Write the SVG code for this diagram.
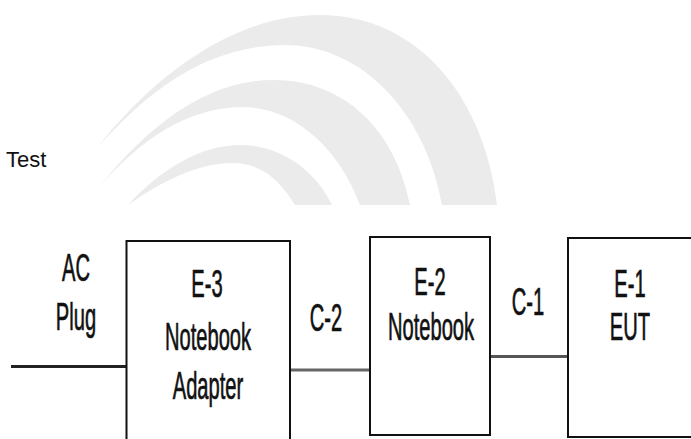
<svg xmlns="http://www.w3.org/2000/svg" width="691" height="439" viewBox="0 0 691 439">
<style>
.sw{fill:#ebebeb}
.box{fill:#fff;stroke:#111;stroke-width:2}
.t{font-family:"Liberation Sans",Arial,sans-serif;font-size:38px;fill:#111;stroke:#111;stroke-width:0.7;text-anchor:middle}
.w{stroke-width:3;fill:none}
</style>
<rect width="691" height="439" fill="#fff"/>
<g id="swoosh">
<path class="sw" d="M97,148 C150,80 230,15 320,15 C420,15 485,100 497,205 L442,205 C425,110 360,45 285,45 C200,45 140,100 97,148 Z"/>
<path class="sw" d="M95,192 C140,135 200,80 273,80 C345,80 395,130 410,205 L360,205 C340,150 295,107 243,107 C180,107 130,150 95,192 Z"/>
<path class="sw" d="M128,205 C160,170 200,145 240,145 C285,145 318,175 332,205 L295,205 C280,180 260,163 233,163 C190,163 150,190 128,205 Z"/>
</g>
<text x="6" y="167" font-family="Liberation Sans, Arial, sans-serif" font-size="22" fill="#111">Test</text>
<g id="connectors">
<line class="w" x1="11" y1="366.5" x2="127" y2="366.5" stroke="#222"/>
<line class="w" x1="290" y1="370" x2="370" y2="370" stroke="#666"/>
<line class="w" x1="490" y1="356.5" x2="568" y2="356.5" stroke="#555"/>
<text class="t" transform="translate(76,281) scale(0.53,1)" font-size="35">AC</text>
<text class="t" transform="translate(76,330) scale(0.53,1)" font-size="35">Plug</text>
<text class="t" transform="translate(326,331) scale(0.53,1)" font-size="41">C-2</text>
<text class="t" transform="translate(528,315) scale(0.53,1)" font-size="41">C-1</text>
</g>
<g id="E-3">
<rect class="box" x="126.5" y="241" width="163.5" height="210"/>
<text class="t" transform="translate(207,297) scale(0.53,1)">E-3</text>
<text class="t" transform="translate(208,350) scale(0.53,1)">Notebook</text>
<text class="t" transform="translate(208,399) scale(0.53,1)">Adapter</text>
</g>
<g id="E-2">
<rect class="box" x="370" y="237" width="120" height="198"/>
<text class="t" transform="translate(430,295) scale(0.53,1)" font-size="41">E-2</text>
<text class="t" transform="translate(431,340) scale(0.53,1)" font-size="38">Notebook</text>
</g>
<g id="E-1">
<rect class="box" x="568" y="238" width="140" height="199"/>
<text class="t" transform="translate(630,297) scale(0.53,1)" font-size="41">E-1</text>
<text class="t" transform="translate(630,340) scale(0.53,1)" font-size="41">EUT</text>
</g>
</svg>
